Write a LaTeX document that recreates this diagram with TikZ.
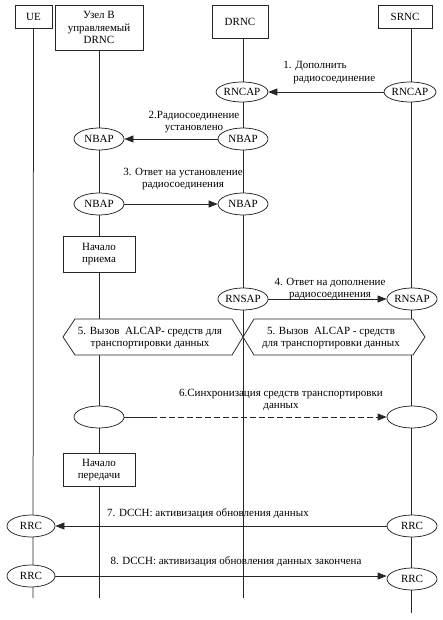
\documentclass[tikz,border=0pt]{standalone}
\usepackage{fontspec}
\setmainfont{Liberation Serif}
\usetikzlibrary{arrows.meta,shapes.geometric,positioning}
\colorlet{linegray}{black!85}

\tikzset{
  every node/.style={font=\fontsize{11}{12.5}\selectfont},
  head/.style={draw=linegray, fill=white, align=center, inner sep=1pt},
  proto/.style={draw=linegray, fill=white, ellipse, minimum width=50pt, minimum height=22pt, inner sep=0pt},
  msg/.style={draw=linegray, -{Triangle[length=9pt,width=7pt]}},
  lbl/.style={align=center, inner sep=0pt},
  hexa/.style={draw=linegray, fill=white},
}

\begin{document}
\begin{tikzpicture}[x=1pt,y=-1pt, line width=0.75pt]
\useasboundingbox (0,0) rectangle (442,620);

% heads of the lifelines
\node[head, minimum width=37pt, minimum height=23pt] (ue) at (33.5,16.5) {UE};
\node[head, minimum width=88pt, minimum height=45pt] (nodeb) at (99,27.5) {Узел В\\управляемый\\DRNC};
\node[head, minimum width=56pt, minimum height=33pt] (drnc) at (240,21.5) {DRNC};
\node[head, minimum width=54pt, minimum height=23pt] (srnc) at (405,16.5) {SRNC};

% lower ends of the lifelines
\coordinate (ueend) at (33,598);
\coordinate (nodebend) at (99,598);
\coordinate (drncend) at (243,598);
\coordinate (srncend) at (411,613);

\draw[linegray] (ue.south) -- (ueend);
\draw[linegray] (nodeb.south) -- (nodebend);
\draw[linegray] (drnc.south -| drncend) -- (drncend);
\draw[linegray] (srnc.south -| srncend) -- (srncend);

% 1. RNCAP
\node[proto, minimum height=20pt] (rncapD) at (242,92) {RNCAP};
\node[proto, minimum width=52pt, minimum height=20pt] (rncapS) at (410,92) {RNCAP};
\draw[msg] (rncapS.west) -- (rncapD.east);
\node[align=left, inner sep=0pt, anchor=north west] (lbl1) at (283,61) {1. Дополнить\\\hspace*{10pt}радиосоединение};

% 2. NBAP
\node[proto] (nbapB2) at (99,139) {NBAP};
\node[proto] (nbapD2) at (243,139) {NBAP};
\draw[msg] (nbapD2.west) -- (nbapB2.east);
\node[lbl] (lbl2) at (194,122) {2.Радиосоединение\\установлено};

% 3. NBAP
\node[proto] (nbapB3) at (99,204) {NBAP};
\node[proto] (nbapD3) at (243,204) {NBAP};
\draw[msg] (nbapB3.east) -- (nbapD3.west);
\node[lbl] (lbl3) at (183,179) {3. Ответ на установление\\радиосоединения};

\node[head, minimum width=72pt, minimum height=36pt] (rxstart) at (99,254) {Начало\\приема};

% 4. RNSAP
\node[proto] (rnsapD) at (243,299) {RNSAP};
\node[proto] (rnsapS) at (412,299) {RNSAP};
\draw[msg] (rnsapD.east) -- (rnsapS.west);
\node[lbl] (lbl4) at (330,289) {4. Ответ на дополнение\\радиосоединения};

% 5. ALCAP
\draw[hexa] (63,337) -- (75,319) -- (232,319) -- (243,337) -- (232,355) -- (75,355) -- cycle;
\draw[hexa] (243,337) -- (254,319) -- (413,319) -- (425,337) -- (413,355) -- (254,355) -- cycle;
\node[lbl] (lbl5a) at (150,338) {5. Вызов \ ALCAP- средств для\\транспортировки данных};
\node[lbl] (lbl5b) at (331,338) {5. Вызов \ ALCAP - средств\\для транспортировки данных};

% 6. synchronisation
\node[proto] (syncB) at (99,417) {};
\node[proto] (syncS) at (412,417) {};
\draw[linegray] (syncB.east) -- ++(27,0) coordinate (sync6);
\draw[msg, dash pattern=on 6pt off 3pt] (sync6) -- (syncS.west);
\node[lbl] (lbl6) at (281,400) {6.Синхронизация средств транспортировки\\данных};

\node[head, minimum width=72pt, minimum height=33pt] (txstart) at (99,470) {Начало\\передачи};

% 7., 8. RRC
\node[proto, minimum width=48pt] (rrcU7) at (31,526) {RRC};
\node[proto] (rrcS7) at (412,526) {RRC};
\draw[msg] (rrcS7.west) -- (rrcU7.east);
\node[lbl] (lbl7) at (208,514) {7. DCCH: активизация обновления данных};

\node[proto, minimum width=48pt] (rrcU8) at (31,576) {RRC};
\node[proto] (rrcS8) at (412,579) {RRC};
\draw[msg] (rrcU8.east) -- (rrcU8.east -| rrcS8.west);
\node[lbl] (lbl8) at (236,562) {8. DCCH: активизация обновления данных закончена};

\end{tikzpicture}
\end{document}
